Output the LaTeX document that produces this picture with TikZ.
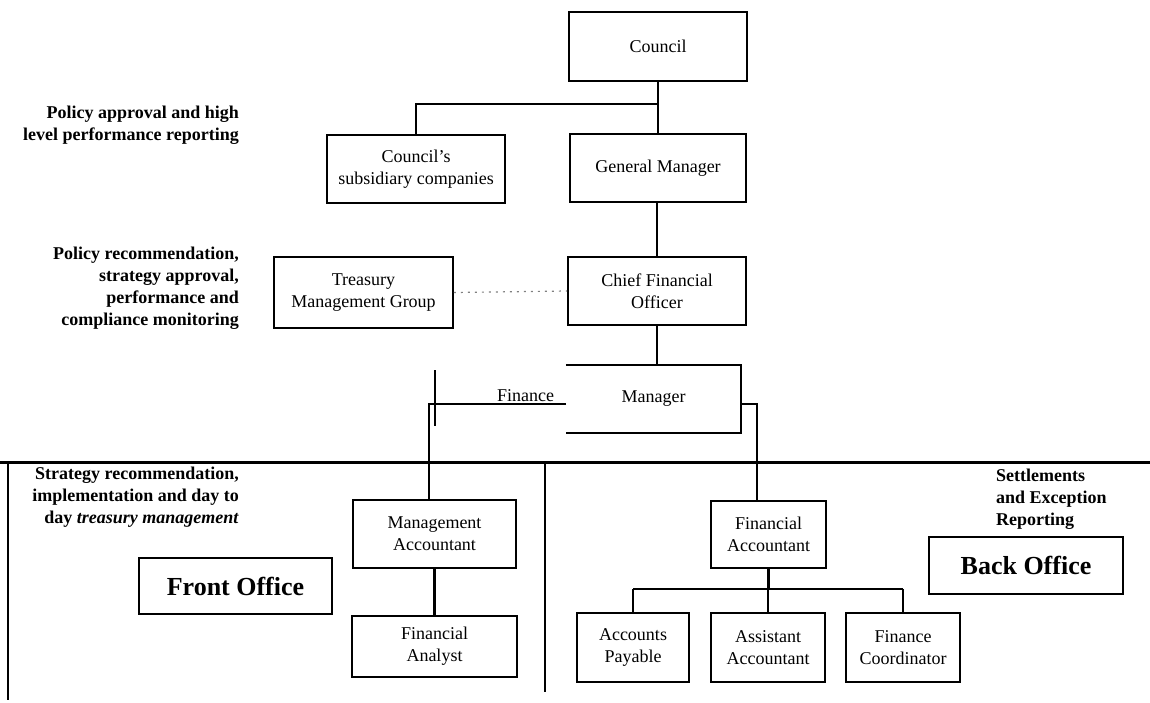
\documentclass[tikz,border=0pt]{standalone}
\usepackage{fontspec}
\setmainfont{Liberation Serif}
\newcommand{\chartfont}{\fontsize{18}{22}\selectfont}
\newcommand{\officefont}{\fontsize{26}{30}\selectfont\bfseries}
\begin{document}
\begin{tikzpicture}[x=1pt, y=-1pt]
        \tikzstyle{boxstyle}=[draw, line width=1.6pt, align=center, inner sep=0pt, font=\chartfont]
        \tikzstyle{linkstyle}=[line width=2.2pt]
        \tikzstyle{notestyle}=[align=right, inner sep=0pt, font=\chartfont\bfseries]
        \useasboundingbox (0, 0) rectangle (1150, 702);

        % draw the upper part of the chart
        \node[boxstyle, minimum width=178, minimum height=69] at (658, 46.5) (council) {Council};
        \node[boxstyle, minimum width=178, minimum height=68] at (416, 169) (sub) {Council’s\\subsidiary companies};
        \node[boxstyle, minimum width=176, minimum height=68] at (658, 168) (gm) {General Manager};
        \node[boxstyle, minimum width=179, minimum height=71] at (363.5, 292.5) (tmg) {Treasury\\Management Group};
        \node[boxstyle, minimum width=178, minimum height=68] at (657, 291) (cfo) {Chief Financial\\Officer};

        % the finance manager box is open on its left side
        \node[inner sep=0pt, minimum width=175, minimum height=68, font=\chartfont] at (653.5, 399) (fm) {Manager};
        \draw[line width=2.2pt] (fm.north west) -- (fm.north east) -- (fm.south east) -- (fm.south west);
        \node[inner sep=0pt, anchor=base west, font=\chartfont] at (497, 401) (fin) {Finance};
        \coordinate (fmL) at (566, 404);
        \coordinate (fmR) at (741, 404);
        \draw[line width=1.6pt] (435, 370) -- (435, 426);

        % draw the notes on the left
        \node[notestyle, anchor=east] at (239, 125.5) (n1) {Policy approval and high\\level performance reporting};
        \node[notestyle, anchor=east] at (239, 288) (n2) {Policy recommendation,\\strategy approval,\\performance and\\compliance monitoring};
        \node[notestyle, anchor=east] at (239, 497) (n3) {Strategy recommendation,\\implementation and day to\\day \textit{treasury management}};
        \node[notestyle, align=left, anchor=west] at (996, 499.5) (n4) {Settlements\\and Exception\\Reporting};

        % draw the lines that split front and back office
        \draw[line width=3pt] (0, 462) -- (1150, 462);
        \draw[line width=2.2pt] (8, 461) -- (8, 700);
        \draw[line width=2.2pt] (545, 462) -- (545, 692);

        % front office
        \node[boxstyle, minimum width=193, minimum height=56, font=\officefont] at (235.5, 586) (fo) {Front Office};
        \node[boxstyle, minimum width=163, minimum height=68] at (434.5, 534) (ma) {Management\\Accountant};
        \node[boxstyle, minimum width=165, minimum height=61] at (434.5, 646.5) (fan) {Financial\\Analyst};
        \coordinate (maTop) at ([xshift=-5.5pt]ma.north);

        % back office
        \node[boxstyle, minimum width=194, minimum height=57, font=\officefont] at (1026, 565.5) (bo) {Back Office};
        \node[boxstyle, minimum width=115, minimum height=67] at (768.5, 534.5) (fac) {Financial\\Accountant};
        \node[boxstyle, minimum width=112, minimum height=69] at (633, 647.5) (ap) {Accounts\\Payable};
        \node[boxstyle, minimum width=114, minimum height=69] at (768, 647.5) (aa) {Assistant\\Accountant};
        \node[boxstyle, minimum width=114, minimum height=69] at (903, 647.5) (fc) {Finance\\Coordinator};

        % draw the reporting lines
        \draw[linkstyle] (council.south) -- (gm.north);
        \draw[linkstyle] (council.south) ++(0, 22) -| (sub.north);
        \draw[linkstyle] (gm.south) -- (cfo.south |- gm.south) -- (cfo.north);
        \draw[dash pattern=on 2pt off 5pt, gray, line width=1.2pt] (tmg.east) -- (cfo.west);
        \draw[linkstyle] (cfo.south) -- (cfo.south |- fm.north);
        \draw[linkstyle] (fmL) -| (maTop);
        \draw[linkstyle] (fmR) -- ++(16, 0) coordinate (fmR2) -- (fmR2 |- fac.north);
        \draw[linkstyle] (ma.south) -- (fan.north);
        \draw[linkstyle] (fac.south) -- ++(0, 20) coordinate (bus);
        \draw[linkstyle] (bus -| ap.north) -- (bus -| fc.north);
        \foreach \b in {ap, aa, fc}
            \draw[linkstyle] (bus -| \b.north) -- (\b.north);
\end{tikzpicture}
\end{document}
